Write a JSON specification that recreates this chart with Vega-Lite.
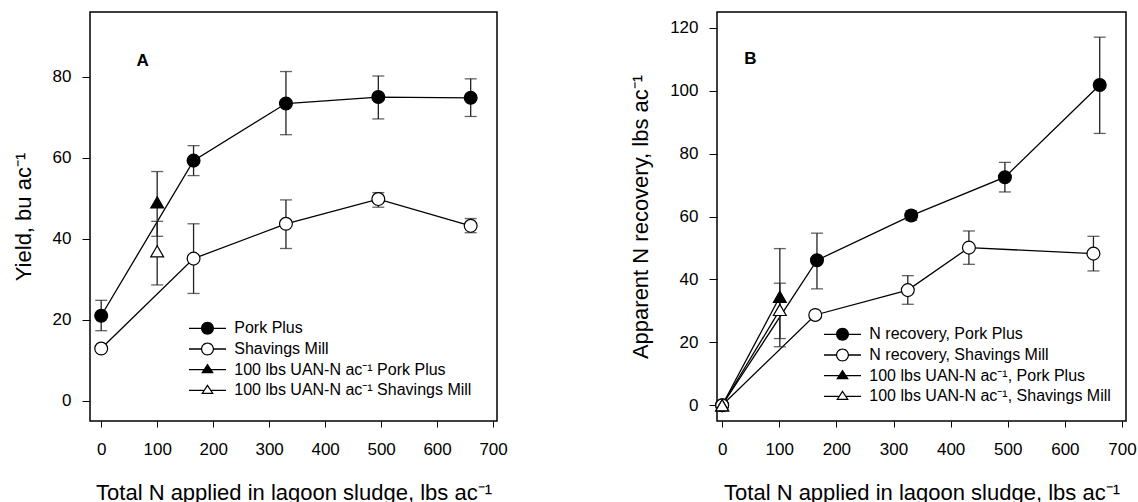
{
  "$schema": "https://vega.github.io/schema/vega-lite/v6.json",
  "background": "white",
  "padding": {"left": 11, "top": 11, "right": 0, "bottom": 0},
  "spacing": 119,
  "datasets": {
    "A": [
      {"s": "Pork Plus", "x": 0, "y": 21.0, "lo": 17.3, "hi": 24.8},
      {"s": "Pork Plus", "x": 165, "y": 59.3, "lo": 55.6, "hi": 63.0},
      {"s": "Pork Plus", "x": 330, "y": 73.4, "lo": 65.7, "hi": 81.3},
      {"s": "Pork Plus", "x": 495, "y": 75.0, "lo": 69.6, "hi": 80.2},
      {"s": "Pork Plus", "x": 660, "y": 74.8, "lo": 70.2, "hi": 79.5},
      {"s": "Shavings Mill", "x": 0, "y": 12.9, "lo": null, "hi": null},
      {"s": "Shavings Mill", "x": 165, "y": 35.1, "lo": 26.5, "hi": 43.7},
      {"s": "Shavings Mill", "x": 330, "y": 43.7, "lo": 37.6, "hi": 49.6},
      {"s": "Shavings Mill", "x": 495, "y": 49.8, "lo": 47.8, "hi": 51.4},
      {"s": "Shavings Mill", "x": 660, "y": 43.2, "lo": 41.5, "hi": 45.0},
      {"s": "100 lbs UAN-N ac⁻¹ Pork Plus", "x": 100, "y": 49.0, "lo": 40.6, "hi": 56.6},
      {"s": "100 lbs UAN-N ac⁻¹ Shavings Mill", "x": 100, "y": 36.9, "lo": 28.6, "hi": 44.3}
    ],
    "B": [
      {"s": "N recovery, Pork Plus", "x": 0, "y": 0, "lo": null, "hi": null},
      {"s": "N recovery, Pork Plus", "x": 166, "y": 46.1, "lo": 37.0, "hi": 54.7},
      {"s": "N recovery, Pork Plus", "x": 331, "y": 60.3, "lo": 58.8, "hi": 61.8},
      {"s": "N recovery, Pork Plus", "x": 495, "y": 72.5, "lo": 67.8, "hi": 77.2},
      {"s": "N recovery, Pork Plus", "x": 661, "y": 101.8, "lo": 86.4, "hi": 117.0},
      {"s": "N recovery, Shavings Mill", "x": 0, "y": 0, "lo": null, "hi": null},
      {"s": "N recovery, Shavings Mill", "x": 163, "y": 28.7, "lo": null, "hi": null},
      {"s": "N recovery, Shavings Mill", "x": 325, "y": 36.6, "lo": 32.1, "hi": 41.2},
      {"s": "N recovery, Shavings Mill", "x": 432, "y": 50.1, "lo": 44.8, "hi": 55.4},
      {"s": "N recovery, Shavings Mill", "x": 650, "y": 48.2, "lo": 42.7, "hi": 53.7},
      {"s": "100 lbs UAN-N ac⁻¹, Pork Plus", "x": 0, "y": 0, "lo": null, "hi": null},
      {"s": "100 lbs UAN-N ac⁻¹, Pork Plus", "x": 101, "y": 34.5, "lo": 18.6, "hi": 49.8},
      {"s": "100 lbs UAN-N ac⁻¹, Shavings Mill", "x": 0, "y": 0, "lo": null, "hi": null},
      {"s": "100 lbs UAN-N ac⁻¹, Shavings Mill", "x": 101, "y": 30.3, "lo": 21.2, "hi": 38.8}
    ]
  },
  "hconcat": [
    {
      "width": 407,
      "height": 409,
      "data": {"name": "A"},
      "layer": [
        {
          "transform": [{"filter": "datum.s == 'Pork Plus' || datum.s == 'Shavings Mill'"}],
          "mark": {"type": "line", "color": "black", "strokeWidth": 1.3},
          "encoding": {
            "x": {"field": "x", "type": "quantitative", "title": "Total N applied in lagoon sludge, lbs ac⁻¹", "scale": {"domain": [-20, 707], "nice": false, "zero": false}, "axis": {"values": [0, 100, 200, 300, 400, 500, 600, 700]}},
            "y": {"field": "y", "type": "quantitative", "title": "Yield, bu ac⁻¹", "scale": {"domain": [-5, 96], "nice": false, "zero": false}, "axis": {"values": [0, 20, 40, 60, 80]}},
            "detail": {"field": "s"}
          }
        },
        {
          "mark": {"type": "rule", "color": "#222", "strokeWidth": 1.3},
          "encoding": {
            "x": {"field": "x", "type": "quantitative", "title": "Total N applied in lagoon sludge, lbs ac⁻¹"},
            "y": {"field": "lo", "type": "quantitative", "title": "Yield, bu ac⁻¹"},
            "y2": {"field": "hi"}
          }
        },
        {
          "mark": {"type": "tick", "orient": "horizontal", "size": 12, "thickness": 1.3, "color": "#222"},
          "encoding": {
            "x": {"field": "x", "type": "quantitative", "title": "Total N applied in lagoon sludge, lbs ac⁻¹"},
            "y": {"field": "lo", "type": "quantitative", "title": "Yield, bu ac⁻¹"}
          }
        },
        {
          "mark": {"type": "tick", "orient": "horizontal", "size": 12, "thickness": 1.3, "color": "#222"},
          "encoding": {
            "x": {"field": "x", "type": "quantitative", "title": "Total N applied in lagoon sludge, lbs ac⁻¹"},
            "y": {"field": "hi", "type": "quantitative", "title": "Yield, bu ac⁻¹"}
          }
        },
        {
          "transform": [{"filter": "indexof(datum.s, 'UAN') < 0"}],
          "mark": {"type": "point", "shape": "circle", "filled": true, "size": 165, "stroke": "black", "strokeWidth": 1.2, "opacity": 1},
          "encoding": {
            "x": {"field": "x", "type": "quantitative", "title": "Total N applied in lagoon sludge, lbs ac⁻¹"},
            "y": {"field": "y", "type": "quantitative", "title": "Yield, bu ac⁻¹"},
            "fill": {"field": "s", "type": "nominal", "scale": {"domain": ["Pork Plus", "Shavings Mill", "100 lbs UAN-N ac⁻¹ Pork Plus", "100 lbs UAN-N ac⁻¹ Shavings Mill"], "range": ["black", "white", "black", "white"]}, "legend": null}
          }
        },
        {
          "transform": [{"filter": "indexof(datum.s, 'UAN') >= 0"}],
          "mark": {"type": "point", "shape": "triangle-up", "filled": true, "size": 165, "stroke": "black", "strokeWidth": 1.2, "opacity": 1},
          "encoding": {
            "x": {"field": "x", "type": "quantitative", "title": "Total N applied in lagoon sludge, lbs ac⁻¹"},
            "y": {"field": "y", "type": "quantitative", "title": "Yield, bu ac⁻¹"},
            "fill": {"field": "s", "type": "nominal", "scale": {"domain": ["Pork Plus", "Shavings Mill", "100 lbs UAN-N ac⁻¹ Pork Plus", "100 lbs UAN-N ac⁻¹ Shavings Mill"], "range": ["black", "white", "black", "white"]}, "legend": null}
          }
        },
        {
          "mark": {"type": "point", "filled": true, "strokeWidth": 0, "opacity": 1, "clip": true},
          "encoding": {
            "x": {"datum": -1000, "type": "quantitative", "title": "Total N applied in lagoon sludge, lbs ac⁻¹"},
            "y": {"field": "y", "type": "quantitative", "title": "Yield, bu ac⁻¹"},
            "shape": {"field": "s", "type": "nominal", "scale": {"domain": ["Pork Plus", "Shavings Mill", "100 lbs UAN-N ac⁻¹ Pork Plus", "100 lbs UAN-N ac⁻¹ Shavings Mill"], "range": [
              "M-2.85,-0.1H-0.9V0.1H-2.85ZM0.9,-0.1H2.85V0.1H0.9ZM-1,0A1,1,0,1,1,1,0A1,1,0,1,1,-1,0Z",
              "M-2.85,-0.1H-0.99V0.1H-2.85ZM0.99,-0.1H2.85V0.1H0.99ZM-1,0A1,1,0,1,1,1,0A1,1,0,1,1,-1,0ZM-0.815,0A0.815,0.815,0,1,0,0.815,0A0.815,0.815,0,1,0,-0.815,0Z",
              "M-2.85,-0.1H-0.5V0.1H-2.85ZM0.5,-0.1H2.85V0.1H0.5ZM0,-0.95L0.98,0.55L-0.98,0.55Z",
              "M-2.85,-0.1H-0.6V0.1H-2.85ZM0.6,-0.1H2.85V0.1H0.6ZM0,-0.95L0.98,0.55L-0.98,0.55ZM0,-0.611L-0.638,0.365L0.638,0.365Z"
            ]}, "legend": {"title": null, "orient": "none", "legendX": 109.5, "legendY": 308.3, "symbolStrokeWidth": 0}},
            "fill": {"field": "s", "type": "nominal", "scale": {"domain": ["Pork Plus", "Shavings Mill", "100 lbs UAN-N ac⁻¹ Pork Plus", "100 lbs UAN-N ac⁻¹ Shavings Mill"], "range": ["black", "black", "black", "black"]}, "legend": {"title": null, "orient": "none", "legendX": 109.5, "legendY": 308.3, "symbolStrokeWidth": 0}}
          }
        },
        {
          "data": {"values": [{"t": "A", "x": 74, "y": 84}]},
          "mark": {"type": "text", "fontSize": 17, "fontWeight": "bold", "color": "black"},
          "encoding": {
            "x": {"field": "x", "type": "quantitative", "title": "Total N applied in lagoon sludge, lbs ac⁻¹"},
            "y": {"field": "y", "type": "quantitative", "title": "Yield, bu ac⁻¹"},
            "text": {"field": "t"}
          }
        }
      ],
      "resolve": {"scale": {"shape": "independent", "fill": "independent"}}
    },
    {
      "width": 409,
      "height": 409,
      "data": {"name": "B"},
      "layer": [
        {
          "mark": {"type": "line", "color": "black", "strokeWidth": 1.3},
          "encoding": {
            "x": {"field": "x", "type": "quantitative", "title": "Total N applied in lagoon sludge, lbs ac⁻¹", "scale": {"domain": [-9, 707], "nice": false, "zero": false}, "axis": {"values": [0, 100, 200, 300, 400, 500, 600, 700]}},
            "y": {"field": "y", "type": "quantitative", "title": "Apparent N recovery, lbs ac⁻¹", "scale": {"domain": [-5, 125], "nice": false, "zero": false}, "axis": {"values": [0, 20, 40, 60, 80, 100, 120]}},
            "detail": {"field": "s"}
          }
        },
        {
          "mark": {"type": "rule", "color": "#222", "strokeWidth": 1.3},
          "encoding": {
            "x": {"field": "x", "type": "quantitative", "title": "Total N applied in lagoon sludge, lbs ac⁻¹"},
            "y": {"field": "lo", "type": "quantitative", "title": "Apparent N recovery, lbs ac⁻¹"},
            "y2": {"field": "hi"}
          }
        },
        {
          "mark": {"type": "tick", "orient": "horizontal", "size": 12, "thickness": 1.3, "color": "#222"},
          "encoding": {
            "x": {"field": "x", "type": "quantitative", "title": "Total N applied in lagoon sludge, lbs ac⁻¹"},
            "y": {"field": "lo", "type": "quantitative", "title": "Apparent N recovery, lbs ac⁻¹"}
          }
        },
        {
          "mark": {"type": "tick", "orient": "horizontal", "size": 12, "thickness": 1.3, "color": "#222"},
          "encoding": {
            "x": {"field": "x", "type": "quantitative", "title": "Total N applied in lagoon sludge, lbs ac⁻¹"},
            "y": {"field": "hi", "type": "quantitative", "title": "Apparent N recovery, lbs ac⁻¹"}
          }
        },
        {
          "transform": [{"filter": "indexof(datum.s, 'UAN') < 0"}],
          "mark": {"type": "point", "shape": "circle", "filled": true, "size": 165, "stroke": "black", "strokeWidth": 1.2, "opacity": 1},
          "encoding": {
            "x": {"field": "x", "type": "quantitative", "title": "Total N applied in lagoon sludge, lbs ac⁻¹"},
            "y": {"field": "y", "type": "quantitative", "title": "Apparent N recovery, lbs ac⁻¹"},
            "fill": {"field": "s", "type": "nominal", "scale": {"domain": ["N recovery, Pork Plus", "N recovery, Shavings Mill", "100 lbs UAN-N ac⁻¹, Pork Plus", "100 lbs UAN-N ac⁻¹, Shavings Mill"], "range": ["black", "white", "black", "white"]}, "legend": null}
          }
        },
        {
          "transform": [{"filter": "indexof(datum.s, 'UAN') >= 0"}],
          "mark": {"type": "point", "shape": "triangle-up", "filled": true, "size": 165, "stroke": "black", "strokeWidth": 1.2, "opacity": 1},
          "encoding": {
            "x": {"field": "x", "type": "quantitative", "title": "Total N applied in lagoon sludge, lbs ac⁻¹"},
            "y": {"field": "y", "type": "quantitative", "title": "Apparent N recovery, lbs ac⁻¹"},
            "fill": {"field": "s", "type": "nominal", "scale": {"domain": ["N recovery, Pork Plus", "N recovery, Shavings Mill", "100 lbs UAN-N ac⁻¹, Pork Plus", "100 lbs UAN-N ac⁻¹, Shavings Mill"], "range": ["black", "white", "black", "white"]}, "legend": null}
          }
        },
        {
          "mark": {"type": "point", "filled": true, "strokeWidth": 0, "opacity": 1, "clip": true},
          "encoding": {
            "x": {"datum": -1000, "type": "quantitative", "title": "Total N applied in lagoon sludge, lbs ac⁻¹"},
            "y": {"field": "y", "type": "quantitative", "title": "Apparent N recovery, lbs ac⁻¹"},
            "shape": {"field": "s", "type": "nominal", "scale": {"domain": ["N recovery, Pork Plus", "N recovery, Shavings Mill", "100 lbs UAN-N ac⁻¹, Pork Plus", "100 lbs UAN-N ac⁻¹, Shavings Mill"], "range": [
              "M-2.85,-0.1H-0.9V0.1H-2.85ZM0.9,-0.1H2.85V0.1H0.9ZM-1,0A1,1,0,1,1,1,0A1,1,0,1,1,-1,0Z",
              "M-2.85,-0.1H-0.99V0.1H-2.85ZM0.99,-0.1H2.85V0.1H0.99ZM-1,0A1,1,0,1,1,1,0A1,1,0,1,1,-1,0ZM-0.815,0A0.815,0.815,0,1,0,0.815,0A0.815,0.815,0,1,0,-0.815,0Z",
              "M-2.85,-0.1H-0.5V0.1H-2.85ZM0.5,-0.1H2.85V0.1H0.5ZM0,-0.95L0.98,0.55L-0.98,0.55Z",
              "M-2.85,-0.1H-0.6V0.1H-2.85ZM0.6,-0.1H2.85V0.1H0.6ZM0,-0.95L0.98,0.55L-0.98,0.55ZM0,-0.611L-0.638,0.365L0.638,0.365Z"
            ]}, "legend": {"title": null, "orient": "none", "legendX": 117.5, "legendY": 314.3, "symbolStrokeWidth": 0}},
            "fill": {"field": "s", "type": "nominal", "scale": {"domain": ["N recovery, Pork Plus", "N recovery, Shavings Mill", "100 lbs UAN-N ac⁻¹, Pork Plus", "100 lbs UAN-N ac⁻¹, Shavings Mill"], "range": ["black", "black", "black", "black"]}, "legend": {"title": null, "orient": "none", "legendX": 117.5, "legendY": 314.3, "symbolStrokeWidth": 0}}
          }
        },
        {
          "data": {"values": [{"t": "B", "x": 49.5, "y": 110}]},
          "mark": {"type": "text", "fontSize": 17, "fontWeight": "bold", "color": "black"},
          "encoding": {
            "x": {"field": "x", "type": "quantitative", "title": "Total N applied in lagoon sludge, lbs ac⁻¹"},
            "y": {"field": "y", "type": "quantitative", "title": "Apparent N recovery, lbs ac⁻¹"},
            "text": {"field": "t"}
          }
        }
      ],
      "resolve": {"scale": {"shape": "independent", "fill": "independent"}}
    }
  ],
  "config": {
    "font": "Liberation Sans",
    "view": {"stroke": "black", "strokeWidth": 1.5},
    "axis": {
      "domain": false,
      "grid": false,
      "ticks": true,
      "tickColor": "black",
      "tickWidth": 1,
      "labelFont": "Liberation Sans",
      "labelFontSize": 17,
      "labelColor": "black",
      "labelFlush": false,
      "labelOverlap": false,
      "labelBound": false,
      "titleFont": "Liberation Sans",
      "titleFontSize": 22,
      "titleFontWeight": "normal",
      "titleColor": "black"
    },
    "axisX": {"tickSize": 6, "labelPadding": 14, "titlePadding": 25},
    "axisY": {"tickSize": 8, "labelPadding": 11, "titlePadding": 17},
    "legend": {
      "labelFont": "Liberation Sans",
      "labelFontSize": 16,
      "labelColor": "black",
      "labelLimit": 400,
      "symbolSize": 169,
      "symbolStrokeWidth": 0,
      "rowPadding": 4.7,
      "labelOffset": 18.8,
      "padding": 0
    }
  }
}
